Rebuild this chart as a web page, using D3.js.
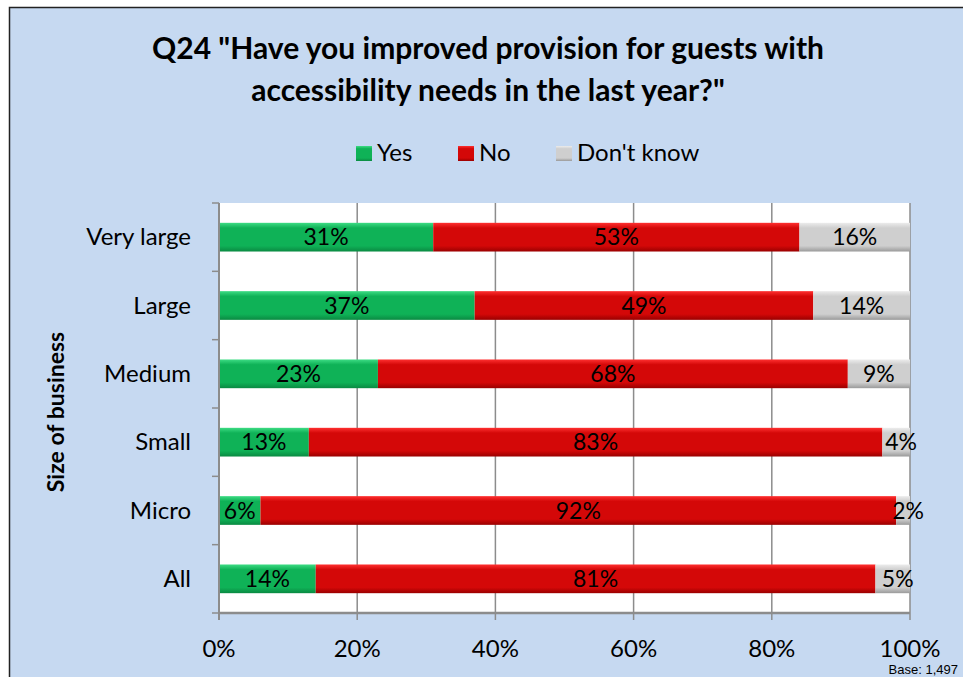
<!DOCTYPE html>
<html>
<head>
<meta charset="utf-8">
<script src="https://cdn.jsdelivr.net/npm/d3@7"></script>
<style>
  body { margin: 0; background: #fff; }
  svg { display: block; font-family: Lato, "Open Sans", sans-serif; }
</style>
</head>
<body>
<svg id="chart" width="963" height="677"></svg>
<script>
const categories = ['Very large', 'Large', 'Medium', 'Small', 'Micro', 'All'];
const seriesNames = ['Yes', 'No', "Don't know"];
const yes = [31, 37, 23, 13, 6, 14];
const no = [53, 49, 68, 83, 92, 81];
const dontKnow = [16, 14, 9, 4, 2, 5];
const xTicks = [0, 20, 40, 60, 80, 100];

const colors = { 'Yes': ['#3ddc84', '#0fb257', '#0a8a42'], 'No': ['#ff3030', '#d40808', '#9a0000'], "Don't know": ['#ececec', '#cfcfcf', '#9a9a9a'] };

const svg = d3.select('#chart');
const margin = { top: 203, right: 53, bottom: 64, left: 219 };
const width = 963 - margin.left - margin.right,
      height = 677 - margin.top - margin.bottom;

// background frame
svg.append('rect').attr('x', 0).attr('y', 0).attr('width', 963).attr('height', 677).attr('fill', '#fff');
svg.append('rect').attr('x', 9.5).attr('y', 7.5).attr('width', 970).attr('height', 690)
  .attr('fill', '#c6d9f1').attr('stroke', '#222').attr('stroke-width', 1.5);

// gradients
const defs = svg.append('defs');
seriesNames.forEach((s, i) => {
  let g = defs.append('linearGradient').attr('id', 'grad' + i)
    .attr('x1', 0).attr('y1', 0).attr('x2', 0).attr('y2', 1);
  g.append('stop').attr('offset', '0%').attr('stop-color', colors[s][0]);
  g.append('stop').attr('offset', '18%').attr('stop-color', colors[s][1]);
  g.append('stop').attr('offset', '80%').attr('stop-color', colors[s][1]);
  g.append('stop').attr('offset', '100%').attr('stop-color', colors[s][2]);
});

// title
svg.append('text').attr('x', 488).attr('y', 59).attr('text-anchor', 'middle')
  .style('font-size', '30px').style('font-weight', 'bold')
  .text('Q24 "Have you improved provision for guests with');
svg.append('text').attr('x', 488).attr('y', 101).attr('text-anchor', 'middle')
  .style('font-size', '30px').style('font-weight', 'bold')
  .text('accessibility needs in the last year?"');

// legend
const legendX = [356, 458, 556];
seriesNames.forEach((s, i) => {
  let lg = svg.append('g').attr('transform', `translate(${legendX[i]},146)`);
  lg.append('rect').attr('width', 16).attr('height', 15).attr('fill', `url(#grad${i})`);
  lg.append('text').attr('x', 21).attr('y', 15).style('font-size', '24px').text(s);
});

const g = svg.append('g').attr('transform', `translate(${margin.left},${margin.top})`);
g.append('rect').attr('width', width).attr('height', height).attr('fill', '#fff');

const x = d3.scaleLinear().domain([0, 100]).range([0, width]);
const y = d3.scaleBand().domain(categories).range([0, height]).paddingInner(0.58).paddingOuter(0.29);
const yOuter = d3.scaleBand().domain(categories).range([0, height]);

// gridlines
g.selectAll('.grid').data(xTicks.slice(1)).enter().append('line')
  .attr('class', 'grid')
  .attr('x1', d => x(d)).attr('x2', d => x(d))
  .attr('y1', 0).attr('y2', height + 7)
  .attr('stroke', '#8c8c8c').attr('stroke-width', 1.5);

// stacked bars
const rows = categories.map((c, i) => ({ cat: c, Yes: yes[i], No: no[i], "Don't know": dontKnow[i] }));
const stacked = d3.stack().keys(seriesNames)(rows);

stacked.forEach((layer, li) => {
  let sg = g.append('g');
  sg.selectAll('rect').data(layer).enter().append('rect')
    .attr('x', d => x(d[0]))
    .attr('y', d => y(d.data.cat))
    .attr('width', d => x(d[1]) - x(d[0]))
    .attr('height', y.bandwidth())
    .attr('fill', `url(#grad${li})`);
  sg.selectAll('text').data(layer).enter().append('text')
    .attr('x', d => (x(d[0]) + x(d[1])) / 2 + ((d[1] - d[0]) < 6 ? 5 : 0))
    .attr('y', d => y(d.data.cat) + y.bandwidth() / 2 + 8)
    .attr('text-anchor', 'middle')
    .style('font-size', '23px')
    .text(d => (d[1] - d[0]) + '%');
});

// y axis
g.append('line').attr('x1', 0).attr('x2', 0).attr('y1', 0).attr('y2', height + 7)
  .attr('stroke', '#8c8c8c').attr('stroke-width', 2);
g.selectAll('.ytick').data(categories).enter().append('line')
  .attr('x1', -7).attr('x2', 0)
  .attr('y1', d => yOuter(d)).attr('y2', d => yOuter(d))
  .attr('stroke', '#8c8c8c').attr('stroke-width', 1.5);
g.append('line').attr('x1', -7).attr('x2', 0).attr('y1', height).attr('y2', height)
  .attr('stroke', '#8c8c8c').attr('stroke-width', 1.5);
g.selectAll('.ylab').data(categories).enter().append('text')
  .attr('x', -28).attr('y', d => yOuter(d) + yOuter.bandwidth() / 2 + 8)
  .attr('text-anchor', 'end').style('font-size', '24px').text(d => d);

// x axis
g.append('line').attr('x1', 0).attr('x2', width).attr('y1', height).attr('y2', height)
  .attr('stroke', '#8c8c8c').attr('stroke-width', 2.5);
g.selectAll('.xlab').data(xTicks).enter().append('text')
  .attr('x', d => x(d)).attr('y', height + 44)
  .attr('text-anchor', 'middle').style('font-size', '24px').text(d => d + '%');

// y axis title
svg.append('text').attr('transform', 'translate(64,412) rotate(-90)')
  .attr('text-anchor', 'middle').style('font-size', '23px').style('font-weight', 'bold')
  .text('Size of business');

svg.append('text').attr('x', 958).attr('y', 674).attr('text-anchor', 'end')
  .style('font-family', '"Liberation Sans", Arial, sans-serif').style('font-size', '13px')
  .text('Base: 1,497');
</script>
</body>
</html>
